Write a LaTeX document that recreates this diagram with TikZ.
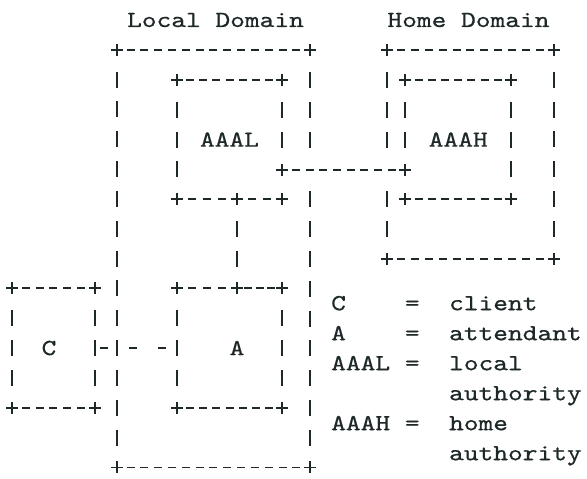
\documentclass[tikz,border=0pt]{standalone}
\usepackage{fontspec}
\newfontfamily\asciifont{lmmono10-regular.otf}[FakeStretch=1.22, FakeBold=0.6]
\usepackage{xcolor}
\usepackage{tikz}
\usetikzlibrary{decorations.markings}
\definecolor{ink}{RGB}{30,40,40}
\tikzset{
  hline/.style={decorate, decoration={markings,
    mark=between positions {1/#1} and {1-0.5/#1} step {1/#1} with {\draw[ink, line width=1.8pt] (-4,0) -- (4,0);}}},
  vline/.style={decorate, decoration={markings,
    mark=between positions {1/#1} and {1-0.5/#1} step {1/#1} with {\draw[ink, line width=1.8pt] (-8,0) -- (8,0);}}},
  plus/.pic={\draw[ink, line width=1.8pt] (-6,0) -- (6,0) (0,-6) -- (0,6);}
}

\begin{document}
\begin{tikzpicture}[x=1pt, y=-1pt]
\tikzstyle{txt}=[inner sep=0pt, text=ink, font=\asciifont\fontsize{23}{30}\selectfont]
\tikzstyle{box}=[txt]
\tikzstyle{gapline}=[draw=ink, line width=1.8pt, dash pattern=on 8pt off 21pt, dash phase=24pt]
\useasboundingbox (0,0) rectangle (587,479);

\node[txt, anchor=base] (loctitle) at (215.5,27) {Local Domain};
\node[txt, anchor=base] (hometitle) at (468.5,27) {Home Domain};

\node[box, minimum width=193, minimum height=417.2] (loc) at (213.5,258.6) {};
\node[box, minimum width=105, minimum height=119] (aaal) at (229.5,139.5) {AAAL};
\node[box, minimum width=167, minimum height=208.6] (home) at (470.5,154.3) {};
\node[box, minimum width=105.5, minimum height=119] (aaah) at (458.25,139.5) {AAAH};
\node[box, minimum width=105, minimum height=119.2, label={[txt, xshift=7.5]center:A}] (att) at (229.5,348) {};
\node[box, minimum width=83, minimum height=119.2, label={[txt, xshift=-4.5]center:C}] (cli) at (53.5,348) {};

\coordinate (l1) at ([yshift=29.5pt]aaal.south east);
\coordinate (l2) at ([yshift=29.5pt]aaah.south west);
\coordinate (j1) at ([xshift=7.5pt]aaal.south);
\coordinate (j2) at ([xshift=7.5pt]att.north);

\path[hline=14] (loc.north west) -- (loc.north east);
\path[hline=14] (loc.south west) -- (loc.south east);
\path[vline=14] (loc.north west) -- (loc.south west);
\path[vline=4] (loc.north east) -- (loc.east |- l1);
\path[vline=10] (loc.east |- l1) -- (loc.south east);

\path[hline=8] (aaal.north west) -- (aaal.north east);
\path[hline=4] (aaal.south west) -- (j1);
\path[hline=3] (j1) -- (aaal.south east);
\path[vline=4] (aaal.north west) -- (aaal.south west);
\path[vline=3] (aaal.north east) -- (l1);

\path[hline=12] (home.north west) -- (home.north east);
\path[hline=12] (home.south west) -- (home.south east);
\path[vline=4] (home.north west) -- (home.west |- l1);
\path[vline=3] (home.west |- l1) -- (home.south west);
\path[vline=7] (home.north east) -- (home.south east);

\path[hline=8] (aaah.north west) -- (aaah.north east);
\path[hline=8] (aaah.south west) -- (aaah.south east);
\path[vline=3] (aaah.north west) -- (l2);
\path[vline=4] (aaah.north east) -- (aaah.south east);

\path[hline=4] (att.north west) -- (j2);
\path[hline=4] (j2) -- (att.north east);
\path[hline=8] (att.south west) -- (att.south east);
\path[vline=4] (att.north west) -- (att.south west);
\path[vline=4] (att.north east) -- (att.south east);

\path[hline=6] (cli.north west) -- (cli.north east);
\path[hline=6] (cli.south west) -- (cli.south east);
\path[vline=4] (cli.north west) -- (cli.south west);
\path[vline=4] (cli.north east) -- (cli.south east);

\path[hline=9] (l1) -- (l2);
\path[vline=3] (j1) -- (j2);
\draw[gapline] (cli) -- (att);

\foreach \b in {loc,aaal,home,aaah,att,cli}
  \foreach \c in {north west,north east,south west,south east}
    \pic at (\b.\c) {plus};
\foreach \p in {l1,l2,j1,j2}
  \pic at (\p) {plus};

\node[txt, anchor=north west] (legend) at (331,289) {%
  \begin{tabular}{@{}l@{\hspace{14.76pt}}c@{\hspace{29.5pt}}l@{}}
  C & = & client\\
  A & = & attendant\\
  AAAL & = & local\\
   & & authority\\
  AAAH & = & home\\
   & & authority
  \end{tabular}};

\end{tikzpicture}
\end{document}
